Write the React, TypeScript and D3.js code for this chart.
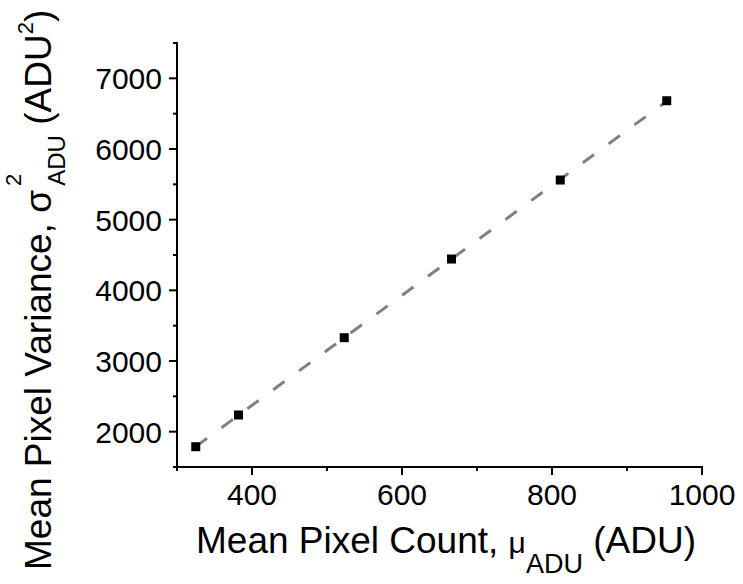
import React from "react";
import * as d3 from "d3";

// Measured mean pixel count vs. variance
const meanCount = [325, 382, 523, 666, 811, 953];
const variance = [1787, 2236, 3330, 4443, 5561, 6683];

const xMajorTicks = [400, 600, 800, 1000];
const xMinorTicks = [300, 500, 700, 900];
const yMajorTicks = [2000, 3000, 4000, 5000, 6000, 7000];
const yMinorTicks = [1500, 2500, 3500, 4500, 5500, 6500, 7500];

const W = 743;
const H = 584;
const FONT = "Arial, 'Liberation Sans', Helvetica, sans-serif";
const MARK = 9;

export default function App() {
  const x = d3.scaleLinear().domain([300, 1000]).range([177, 702]);
  const y = d3.scaleLinear().domain([1500, 7500]).range([467, 43]);

  // least-squares fit of variance on mean count
  const mx = d3.mean(meanCount) as number;
  const my = d3.mean(variance) as number;
  const sxy = d3.sum(meanCount, (v, i) => (v - mx) * (variance[i] - my));
  const sxx = d3.sum(meanCount, (v) => (v - mx) * (v - mx));
  const slope = sxy / sxx;
  const intercept = my - slope * mx;
  const x0 = d3.min(meanCount) as number;
  const x1 = d3.max(meanCount) as number;
  const fitLine = d3.line<number>()
    .x((v) => x(v))
    .y((v) => y(slope * v + intercept));

  const axisY = y.range()[0];
  const axisX = x.range()[0];

  return (
    <svg
      width={W}
      height={H}
      style={{ position: "absolute", left: 0, top: 0, background: "#fff" }}
      fontFamily={FONT}
    >
      {/* fit line */}
      <path
        d={fitLine([x0, x1]) || ""}
        fill="none"
        stroke="#808080"
        strokeWidth={3}
        strokeDasharray="14 18"
      />
      {/* data points */}
      {meanCount.map((v, i) => (
        <rect
          key={i}
          x={x(v) - MARK / 2}
          y={y(variance[i]) - MARK / 2}
          width={MARK}
          height={MARK}
          fill="#000"
        />
      ))}

      {/* x axis */}
      <line x1={x.range()[0] - 1} x2={x.range()[1] + 1} y1={axisY} y2={axisY} stroke="#000" strokeWidth={2} />
      {xMajorTicks.map((t) => (
        <g key={"xm" + t}>
          <line x1={x(t)} x2={x(t)} y1={axisY} y2={axisY + 8} stroke="#000" strokeWidth={2} />
          <text x={x(t)} y={505} textAnchor="middle" fontSize={30}>
            {t}
          </text>
        </g>
      ))}
      {xMinorTicks.map((t) => (
        <line key={"xn" + t} x1={x(t)} x2={x(t)} y1={axisY} y2={axisY + 4} stroke="#000" strokeWidth={2} />
      ))}

      {/* y axis */}
      <line x1={axisX} x2={axisX} y1={y.range()[1] - 1} y2={y.range()[0] + 1} stroke="#000" strokeWidth={2} />
      {yMajorTicks.map((t) => (
        <g key={"ym" + t}>
          <line x1={axisX} x2={axisX - 8} y1={y(t)} y2={y(t)} stroke="#000" strokeWidth={2} />
          <text x={162} y={y(t) + 11} textAnchor="end" fontSize={30}>
            {t}
          </text>
        </g>
      ))}
      {yMinorTicks.map((t) => (
        <line key={"yn" + t} x1={axisX} x2={axisX - 4} y1={y(t)} y2={y(t)} stroke="#000" strokeWidth={2} />
      ))}

      {/* x axis title */}
      <text x={196} y={553} fontSize={37}>
        Mean Pixel Count, <tspan fontSize={30}>μ</tspan>
        <tspan fontSize={27} dy={20}>ADU</tspan>
        <tspan dy={-20}> (ADU)</tspan>
      </text>

      {/* y axis title */}
      <text transform="translate(51,570) rotate(-90)" fontSize={37}>
        Mean Pixel Variance, σ
        <tspan fontSize={22} dy={-30} dx={4}>2</tspan>
        <tspan fontSize={24} dy={44} dx={-12}>ADU</tspan>
        <tspan dy={-14}> (ADU</tspan>
        <tspan fontSize={22} dy={-18}>2</tspan>
        <tspan dy={18}>)</tspan>
      </text>
    </svg>
  );
}
